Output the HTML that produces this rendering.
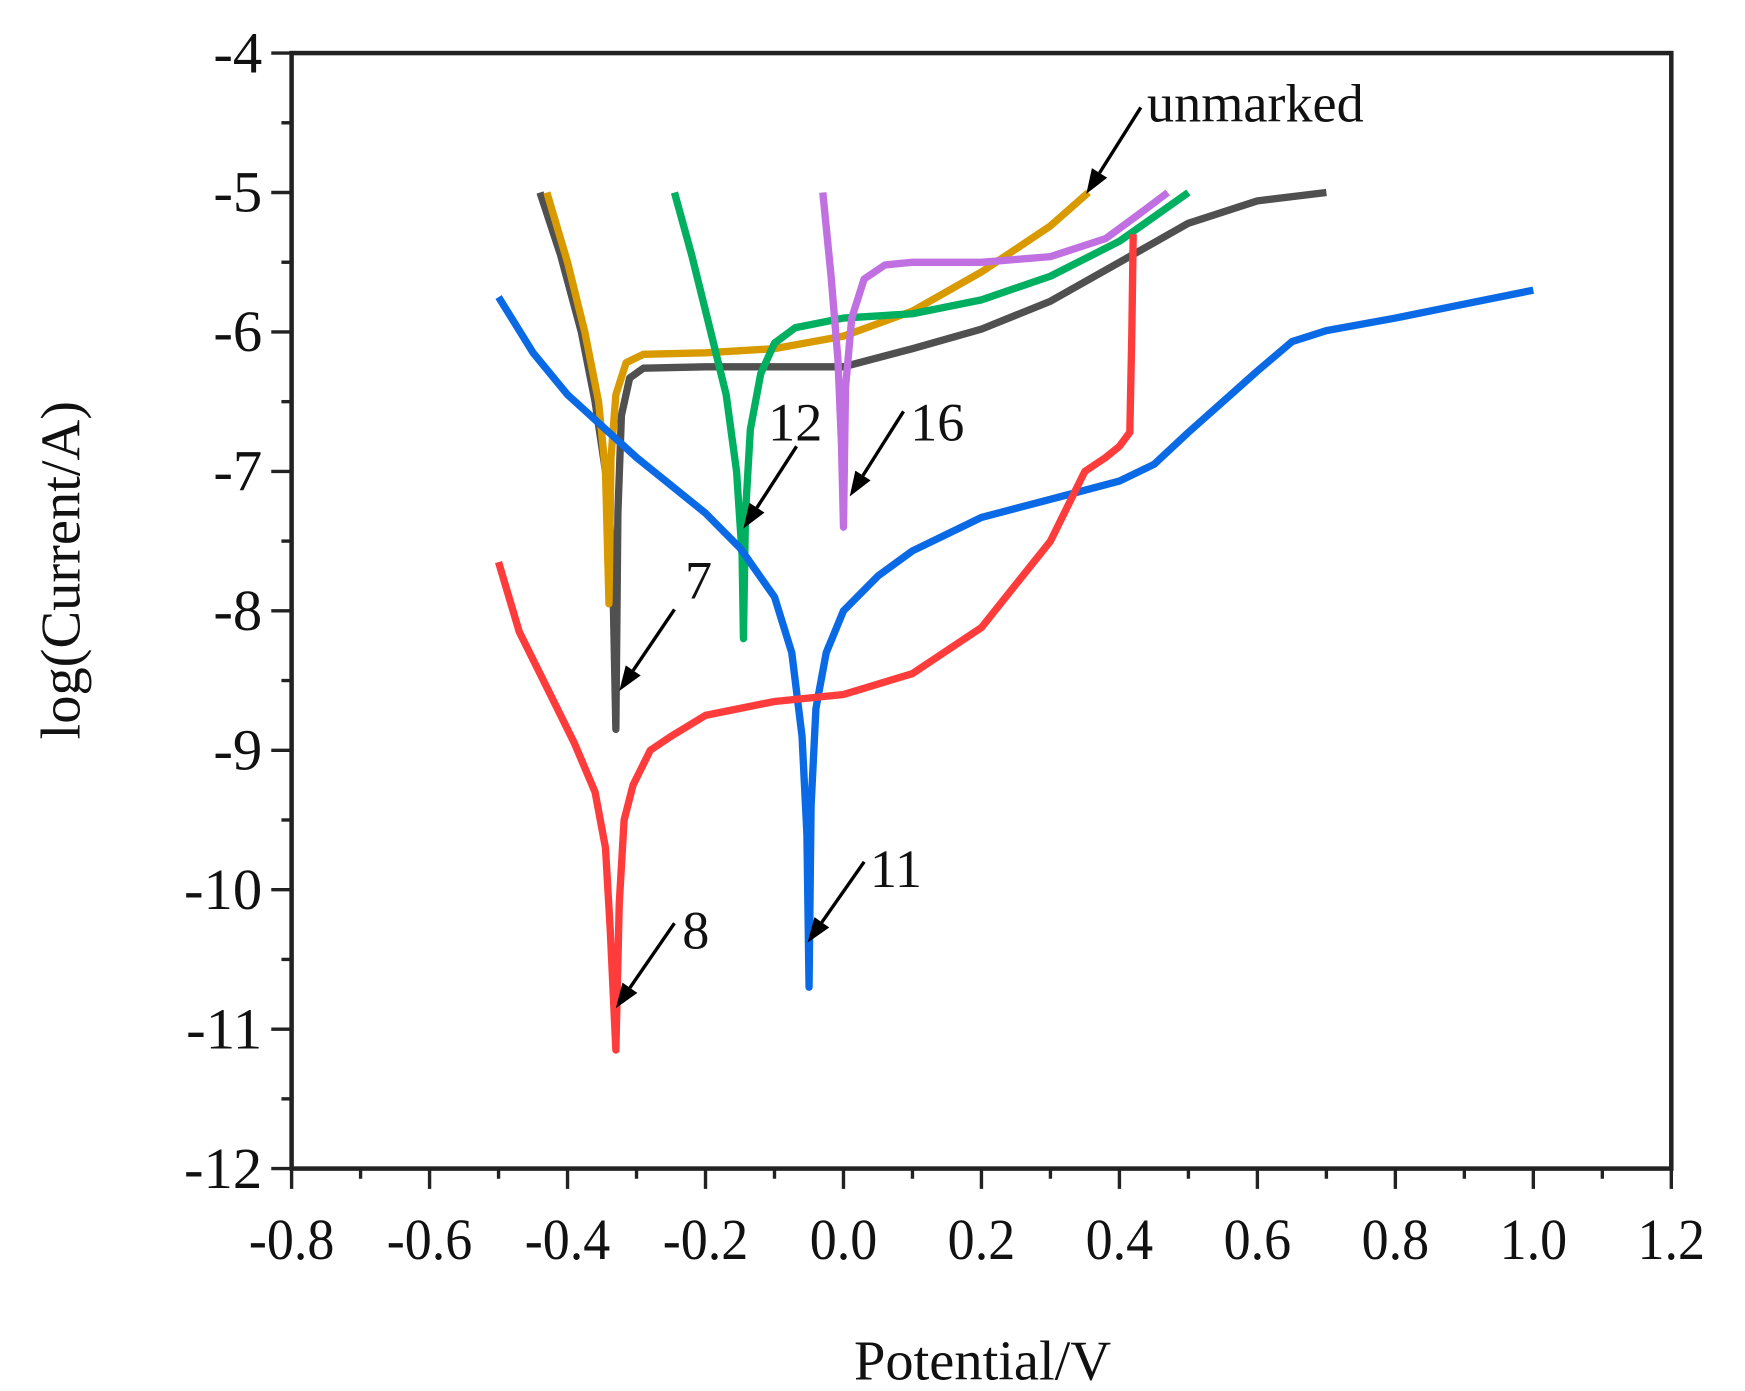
<!DOCTYPE html>
<html><head><meta charset="utf-8"><style>
html,body{margin:0;padding:0;background:#fff;}
svg{display:block;}
text{font-family:"Liberation Serif",serif;fill:#111;}
</style></head><body>
<svg id="chart" width="1745" height="1391" viewBox="0 0 1545 1232">
<rect x="0" y="0" width="1545" height="1232" fill="#fff"/>
<g id="plot"></g>
<g id="axes"></g>
<text x="70" y="505" font-size="50" text-anchor="middle" transform="rotate(-90 70 505)">log(Current/A)</text>
<text x="870" y="1222" font-size="50" text-anchor="middle">Potential/V</text>
</svg>
<script>
const xTicks=[-0.8,-0.6,-0.4,-0.2,0.0,0.2,0.4,0.6,0.8,1.0,1.2];
const yTicks=[-4,-5,-6,-7,-8,-9,-10,-11,-12];
const seriesNames=["s7","unmarked","s12","s16","s11","s8"];
const seriesColors=["#505050","#d99a00","#00b060","#c070e0","#0a6ae6","#ff3c3c"];
const s7=[[-0.44,-5],[-0.41,-5.45],[-0.38,-6.0],[-0.36,-6.5],[-0.345,-7.0],[-0.335,-7.6],[-0.33,-8.85],[-0.327,-7.3],[-0.322,-6.6],[-0.31,-6.33],[-0.29,-6.26],[-0.2,-6.25],[0,-6.25],[0.1,-6.12],[0.2,-5.98],[0.3,-5.78],[0.4,-5.5],[0.5,-5.22],[0.6,-5.06],[0.7,-5.0]];
const sU=[[-0.43,-5],[-0.4,-5.5],[-0.375,-6.0],[-0.355,-6.5],[-0.345,-7.0],[-0.34,-7.95],[-0.337,-6.9],[-0.33,-6.45],[-0.315,-6.22],[-0.29,-6.16],[-0.2,-6.15],[-0.1,-6.12],[0,-6.03],[0.1,-5.85],[0.2,-5.57],[0.3,-5.24],[0.355,-5.0]];
const s12=[[-0.245,-5],[-0.22,-5.45],[-0.195,-5.95],[-0.17,-6.45],[-0.155,-7.0],[-0.147,-7.6],[-0.145,-8.2],[-0.142,-7.3],[-0.135,-6.7],[-0.12,-6.3],[-0.1,-6.08],[-0.07,-5.97],[0,-5.9],[0.1,-5.87],[0.2,-5.77],[0.3,-5.6],[0.4,-5.35],[0.5,-5.0]];
const s16=[[-0.03,-5],[-0.018,-5.6],[-0.008,-6.2],[-0.003,-6.8],[0,-7.4],[0.003,-6.4],[0.012,-5.9],[0.03,-5.62],[0.06,-5.52],[0.1,-5.5],[0.2,-5.5],[0.3,-5.46],[0.38,-5.33],[0.43,-5.15],[0.47,-5.0]];
const s11=[[-0.5,-5.75],[-0.45,-6.15],[-0.4,-6.45],[-0.3,-6.9],[-0.2,-7.3],[-0.15,-7.55],[-0.1,-7.9],[-0.075,-8.3],[-0.06,-8.9],[-0.053,-9.6],[-0.05,-10.7],[-0.047,-9.4],[-0.04,-8.7],[-0.025,-8.3],[0,-8.0],[0.05,-7.75],[0.1,-7.57],[0.2,-7.33],[0.3,-7.2],[0.4,-7.07],[0.45,-6.95],[0.5,-6.72],[0.55,-6.5],[0.6,-6.28],[0.65,-6.07],[0.7,-5.99],[0.8,-5.9],[0.9,-5.8],[1.0,-5.7]];
const s8=[[-0.5,-7.65],[-0.47,-8.15],[-0.43,-8.55],[-0.39,-8.95],[-0.36,-9.3],[-0.345,-9.7],[-0.338,-10.3],[-0.33,-11.15],[-0.325,-10.1],[-0.318,-9.5],[-0.305,-9.25],[-0.28,-9.0],[-0.25,-8.9],[-0.2,-8.75],[-0.1,-8.65],[0,-8.6],[0.1,-8.45],[0.2,-8.12],[0.3,-7.5],[0.33,-7.2],[0.35,-7.0],[0.38,-6.9],[0.4,-6.82],[0.415,-6.72],[0.418,-6.0],[0.42,-5.3]];
const allSeries=[s7,sU,s12,s16,s11,s8];
const labels=["7","unmarked","12","16","11","8"];
const labelAnchor=["middle","start","middle","middle","middle","middle"];
const labelPos=[[-0.21,-7.91],[0.44,-4.49],[-0.07,-6.78],[0.136,-6.78],[0.076,-9.98],[-0.214,-10.42]];
const arrowTail=[[-0.245,-7.99],[0.431,-4.39],[-0.068,-6.82],[0.087,-6.57],[0.03,-9.8],[-0.245,-10.24]];
const arrowHead=[[-0.325,-8.575],[0.352,-5.01],[-0.145,-7.41],[0.009,-7.18],[-0.052,-10.38],[-0.33,-10.85]];

const X0=258,X1=1480,Y0=47,Y1=1035;
function xs(v){return X0+(v+0.8)/2.0*(X1-X0);}
function ys(v){return Y0+(-4-v)/8*(Y1-Y0);}
const NS="http://www.w3.org/2000/svg";
const plot=document.getElementById('plot'),axes=document.getElementById('axes'),svg=document.getElementById('chart');
function mk(t,a,p){const e=document.createElementNS(NS,t);for(const k in a)e.setAttribute(k,a[k]);(p||svg).appendChild(e);return e;}

const frame=mk('rect',{x:X0,y:Y0,width:X1-X0,height:Y1-Y0,fill:'none',stroke:'#222','stroke-width':4},axes);


for(let i=0;i<=20;i++){const v=-0.8+i*0.1;const x=xs(v);const major=i%2===0;
 const t=mk('line',{x1:x,x2:x,y1:Y1,y2:Y1+(major?18:9),stroke:'#222','stroke-width':3},axes);
 
 }
xTicks.forEach(v=>{const t=mk('text',{x:xs(v),y:Y1+80,'font-size':52,'text-anchor':'middle',transform:`translate(${xs(v)} 0) scale(0.92 1) translate(${-xs(v)} 0)`},axes);
 t.textContent=v.toFixed(1);
 
 });
for(let i=0;i<=16;i++){const v=-4-i*0.5;const y=ys(v);const major=i%2===0;
 const t=mk('line',{x1:X0-(major?18:9),x2:X0,y1:y,y2:y,stroke:'#222','stroke-width':3},axes);
 
 }
yTicks.forEach(v=>{const t=mk('text',{x:X0-26,y:ys(v)+17,'font-size':52,'text-anchor':'end'},axes);
 t.textContent=String(v);
 
 });

allSeries.forEach((s,i)=>{const d=s.map((p,j)=>(j?'L':'M')+xs(p[0]).toFixed(1)+' '+ys(p[1]).toFixed(1)).join(' ');
 const p=mk('path',{d:d,fill:'none',stroke:seriesColors[i],'stroke-width':6.5,'stroke-linejoin':'round','stroke-linecap':'butt'},plot);
 
 });

labels.forEach((l,i)=>{const x1=xs(arrowTail[i][0]),y1=ys(arrowTail[i][1]),x2=xs(arrowHead[i][0]),y2=ys(arrowHead[i][1]);
 const ang=Math.atan2(y2-y1,x2-x1),L=22,W=8;
 const bx=x2-L*Math.cos(ang),by=y2-L*Math.sin(ang);
 const ln=mk('line',{x1:x1,y1:y1,x2:bx,y2:by,stroke:'#000','stroke-width':3},plot);
 
 
 const hd=mk('polygon',{points:`${x2},${y2} ${bx+W*Math.sin(ang)},${by-W*Math.cos(ang)} ${bx-W*Math.sin(ang)},${by+W*Math.cos(ang)}`,fill:'#000'},plot);
 
 
 const t=mk('text',{x:xs(labelPos[i][0]),y:ys(labelPos[i][1]),'font-size':48,'text-anchor':labelAnchor[i]},plot);
 t.textContent=l;
 
 });
</script>
</body></html>
